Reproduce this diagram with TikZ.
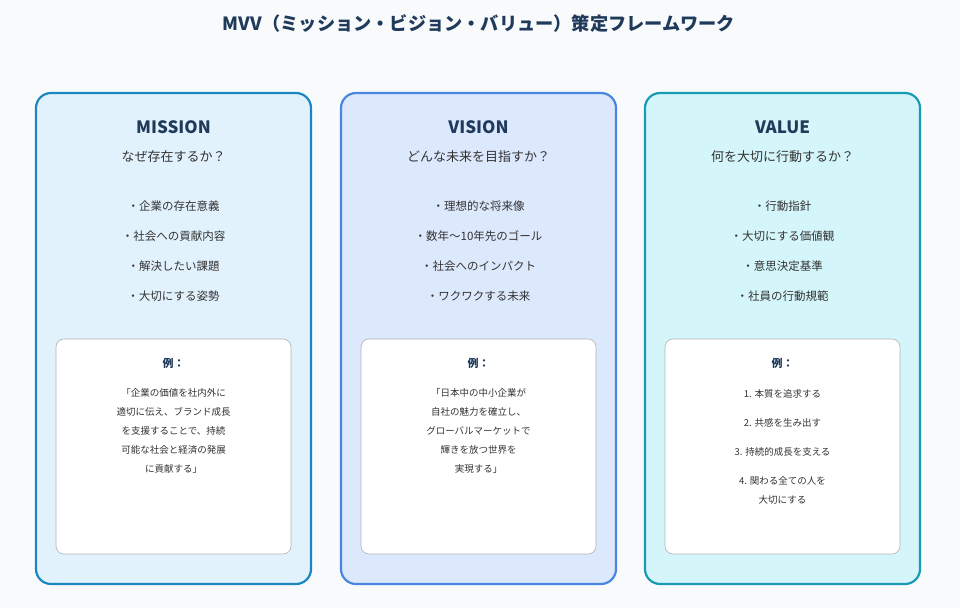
\documentclass[tikz,border=0pt]{standalone}
\usepackage{fontspec}
\setmainfont{Noto Sans CJK JP}
\definecolor{bg}{HTML}{F8FAFC}
\definecolor{navy}{HTML}{1F3A5A}
\definecolor{txt}{HTML}{333333}
\definecolor{mb}{HTML}{1A87C0}\definecolor{mf}{HTML}{E2F2FD}
\definecolor{vb}{HTML}{4A86E0}\definecolor{vf}{HTML}{DCE8FC}
\definecolor{wb}{HTML}{1A9BB5}\definecolor{wf}{HTML}{D4F6FB}
\begin{document}
\begin{tikzpicture}[x=1pt,y=-1pt,
  card/.style={line width=2.2pt,rounded corners=15pt},
  inner/.style={draw=black!30,fill=white,line width=0.6pt,rounded corners=8pt},
  head/.style={font=\fontsize{17}{20}\selectfont\bfseries,text=navy},
  sub/.style={font=\fontsize{13}{16}\selectfont,text=txt},
  bul/.style={font=\fontsize{11.5}{14}\selectfont,text=txt},
  ex/.style={font=\fontsize{11}{13}\selectfont\bfseries,text=navy},
  small/.style={font=\fontsize{9.5}{19}\selectfont,text=txt,align=center}]
\fill[bg] (0,0) rectangle (960,608);
\node[font=\fontsize{18.2}{22}\selectfont\bfseries,text=navy] (title) at (479,24) {MVV（ミッション・ビジョン・バリュー）策定フレームワーク};
% cards
\draw[card,draw=mb,fill=mf] (36,93) rectangle (311,584);
\draw[card,draw=vb,fill=vf] (341,93) rectangle (616,584);
\draw[card,draw=wb,fill=wf] (645,93) rectangle (920,584);
\draw[inner] (56,339) rectangle (291,554);
\draw[inner] (361,339) rectangle (596,554);
\draw[inner] (665,339) rectangle (900,554);
% mission
\node[head] (mh) at (173.5,127) {MISSION};
\node[sub] (ms) at (173.5,157) {なぜ存在するか？};
\node[bul] (m1) at (173.5,206) {・企業の存在意義};
\node[bul] (m2) at (173.5,236) {・社会への貢献内容};
\node[bul] (m3) at (173.5,266) {・解決したい課題};
\node[bul] (m4) at (173.5,296) {・大切にする姿勢};
\node[ex] (me) at (173.5,363) {例：};
\node[small,anchor=north] (mt) at (173.5,385) {「企業の価値を社内外に\\適切に伝え、ブランド成長\\を支援することで、持続\\可能な社会と経済の発展\\に貢献する」};
% vision
\node[head] (vh) at (478.5,127) {VISION};
\node[sub] (vs) at (478.5,157) {どんな未来を目指すか？};
\node[bul] (v1) at (478.5,206) {・理想的な将来像};
\node[bul] (v2) at (478.5,236) {・数年～10年先のゴール};
\node[bul] (v3) at (478.5,266) {・社会へのインパクト};
\node[bul] (v4) at (478.5,296) {・ワクワクする未来};
\node[ex] (ve) at (478.5,363) {例：};
\node[small,anchor=north] (vt) at (478.5,385) {「日本中の中小企業が\\自社の魅力を確立し、\\グローバルマーケットで\\輝きを放つ世界を\\実現する」};
% value
\node[head] (wh) at (782.5,127) {VALUE};
\node[sub] (ws) at (782.5,157) {何を大切に行動するか？};
\node[bul] (w1) at (782.5,206) {・行動指針};
\node[bul] (w2) at (782.5,236) {・大切にする価値観};
\node[bul] (w3) at (782.5,266) {・意思決定基準};
\node[bul] (w4) at (782.5,296) {・社員の行動規範};
\node[ex] (we) at (782.5,363) {例：};
\node[small] (x1) at (782.5,394) {1. 本質を追求する};
\node[small] (x2) at (782.5,423) {2. 共感を生み出す};
\node[small] (x3) at (782.5,452) {3. 持続的成長を支える};
\node[small,anchor=north] (x4) at (782.5,473) {4. 関わる全ての人を\\大切にする};
\end{tikzpicture}
\end{document}
